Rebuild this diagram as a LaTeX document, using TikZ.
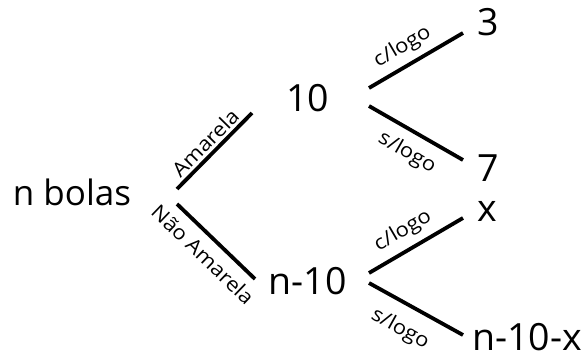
\documentclass[tikz,border=0pt]{standalone}
\usepackage{fontspec}
\setmainfont{Open Sans}
\newfontfamily\lblfont[FakeStretch=1.1]{Open Sans}
\begin{document}
\begin{tikzpicture}[x=1pt,y=-1pt,
  big/.style={font=\fontsize{37.5}{42}\selectfont, inner sep=0pt},
  lbl/.style={font=\lblfont\fontsize{20}{22}\selectfont, inner sep=0pt},
  branch/.style={line width=3.8pt}]
\useasboundingbox (0,0) rectangle (587,358);
\node[big, font=\fontsize{35}{40}\selectfont] (nb) at (72,192.5) {n bolas};
\node[big] (ten) at (307.5,98.5) {10};
\node[big] (n10) at (307.5,281) {n-10};
\node[big] (three) at (488,22.5) {3};
\node[big] (seven) at (488.5,168.5) {7};
\node[big] (x) at (487,211) {x};
\node[big] (n10x) at (527,337.5) {n-10-x};
\coordinate (a0) at (177,189);
\coordinate (a1) at (252,113);
\coordinate (b0) at (177,204);
\coordinate (b1) at (255,279);
\coordinate (c0) at (369,88);
\coordinate (c1) at (463,33);
\coordinate (d0) at (369,106);
\coordinate (d1) at (463,160);
\coordinate (e0) at (369,273);
\coordinate (e1) at (463,218);
\coordinate (f0) at (369,283);
\coordinate (f1) at (463,335);
\draw[branch] (a0) -- (a1);
\draw[branch] (b0) -- (b1);
\draw[branch] (c0) -- (c1);
\draw[branch] (d0) -- (d1);
\draw[branch] (e0) -- (e1);
\draw[branch] (f0) -- (f1);
\node[lbl, rotate=45.4] (la) at (205.3,142.8) {Amarela};
\node[lbl, rotate=-43.9] (lb) at (203,254.5) {Não Amarela};
\node[lbl, rotate=30.3] (lc) at (402.5,47) {c/logo};
\node[lbl, rotate=-29.9] (ld) at (407,153) {s/logo};
\node[lbl, rotate=30.3] (le) at (403,231) {c/logo};
\node[lbl, rotate=-29] (lf) at (400,329) {s/logo};
\end{tikzpicture}
\end{document}
